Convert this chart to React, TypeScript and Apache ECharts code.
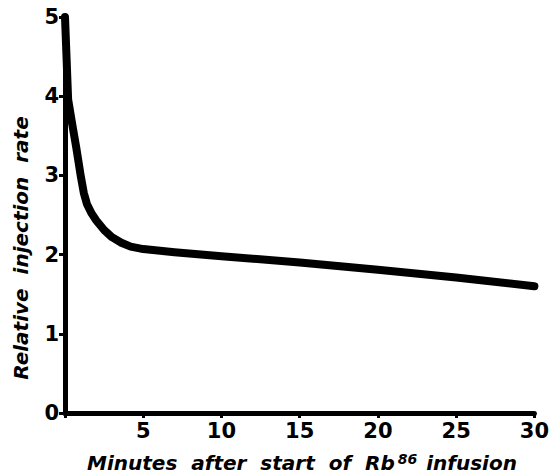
import React, { useEffect, useRef } from "react";
import * as echarts from "echarts";

const xTicks = [0, 5, 10, 15, 20, 25, 30];
const yTicks = [0, 1, 2, 3, 4, 5];
const minutes = [0, 0.2, 0.45, 0.72, 1.0, 1.2, 1.4, 1.7, 2.0, 2.5, 3.0, 3.6, 4.2, 5, 7, 10, 15, 20, 25, 30];
const rate = [5, 3.96, 3.66, 3.35, 3.0, 2.78, 2.64, 2.52, 2.43, 2.31, 2.22, 2.15, 2.1, 2.07, 2.03, 1.98, 1.9, 1.81, 1.71, 1.6];

const FONT = "'DejaVu Sans', 'Liberation Sans', sans-serif";

export default function App() {
  const ref = useRef<HTMLDivElement>(null);
  useEffect(() => {
    if (!ref.current) return;
    const chart = echarts.init(ref.current, null, { renderer: "svg" });
    chart.setOption({
      animation: false,
      backgroundColor: "#ffffff",
      grid: { left: 65, right: 17, top: 17, bottom: 63, containLabel: false },
      xAxis: {
        type: "value",
        min: xTicks[0],
        max: xTicks[xTicks.length - 1],
        interval: 5,
        splitLine: { show: false },
        axisLine: { show: true, lineStyle: { color: "#000", width: 5 } },
        axisTick: { show: true, length: 5, lineStyle: { color: "#000", width: 3 } },
        axisLabel: {
          color: "#000",
          fontFamily: FONT,
          fontWeight: "bold",
          fontSize: 21,
          margin: 7,
          formatter: (v: number) => (v === 0 ? "" : String(v)),
        },
      },
      yAxis: {
        type: "value",
        min: yTicks[0],
        max: yTicks[yTicks.length - 1],
        interval: 1,
        splitLine: { show: false },
        axisLine: { show: true, lineStyle: { color: "#000", width: 5 } },
        axisTick: { show: true, length: 6, lineStyle: { color: "#000", width: 3 } },
        axisLabel: {
          color: "#000",
          fontFamily: FONT,
          fontWeight: "bold",
          fontSize: 21,
          margin: 6,
        },
      },
      graphic: [
        {
          type: "text",
          x: 21,
          y: 248,
          rotation: Math.PI / 2,
          style: {
            text: "Relative  injection  rate",
            fontFamily: FONT,
            fontWeight: "bold",
            fontStyle: "italic",
            fontSize: 20,
            fill: "#000",
            align: "center",
            verticalAlign: "middle",
          },
        },
        {
          type: "text",
          x: 302,
          y: 463,
          style: {
            text: "{n|Minutes  after  start  of  Rb}{s|86}{n| infusion}",
            align: "center",
            verticalAlign: "middle",
            rich: {
              n: {
                fontFamily: FONT,
                fontWeight: "bold",
                fontStyle: "italic",
                fontSize: 20,
                color: "#000",
              },
              s: {
                fontFamily: FONT,
                fontWeight: "bold",
                fontStyle: "italic",
                fontSize: 14,
                color: "#000",
                verticalAlign: "top",
                padding: [0, 2, 8, 3],
              },
            },
          },
        },
      ],
      series: [
        {
          type: "line",
          data: minutes.map((m, i) => [m, rate[i]]),
          smooth: false,
          symbol: "none",
          clip: false,
          lineStyle: { color: "#000", width: 8, cap: "round", join: "round" },
        },
      ],
    });
    return () => chart.dispose();
  }, []);
  return (
    <div
      ref={ref}
      style={{ position: "fixed", left: 0, top: 0, width: 552, height: 476 }}
    />
  );
}
